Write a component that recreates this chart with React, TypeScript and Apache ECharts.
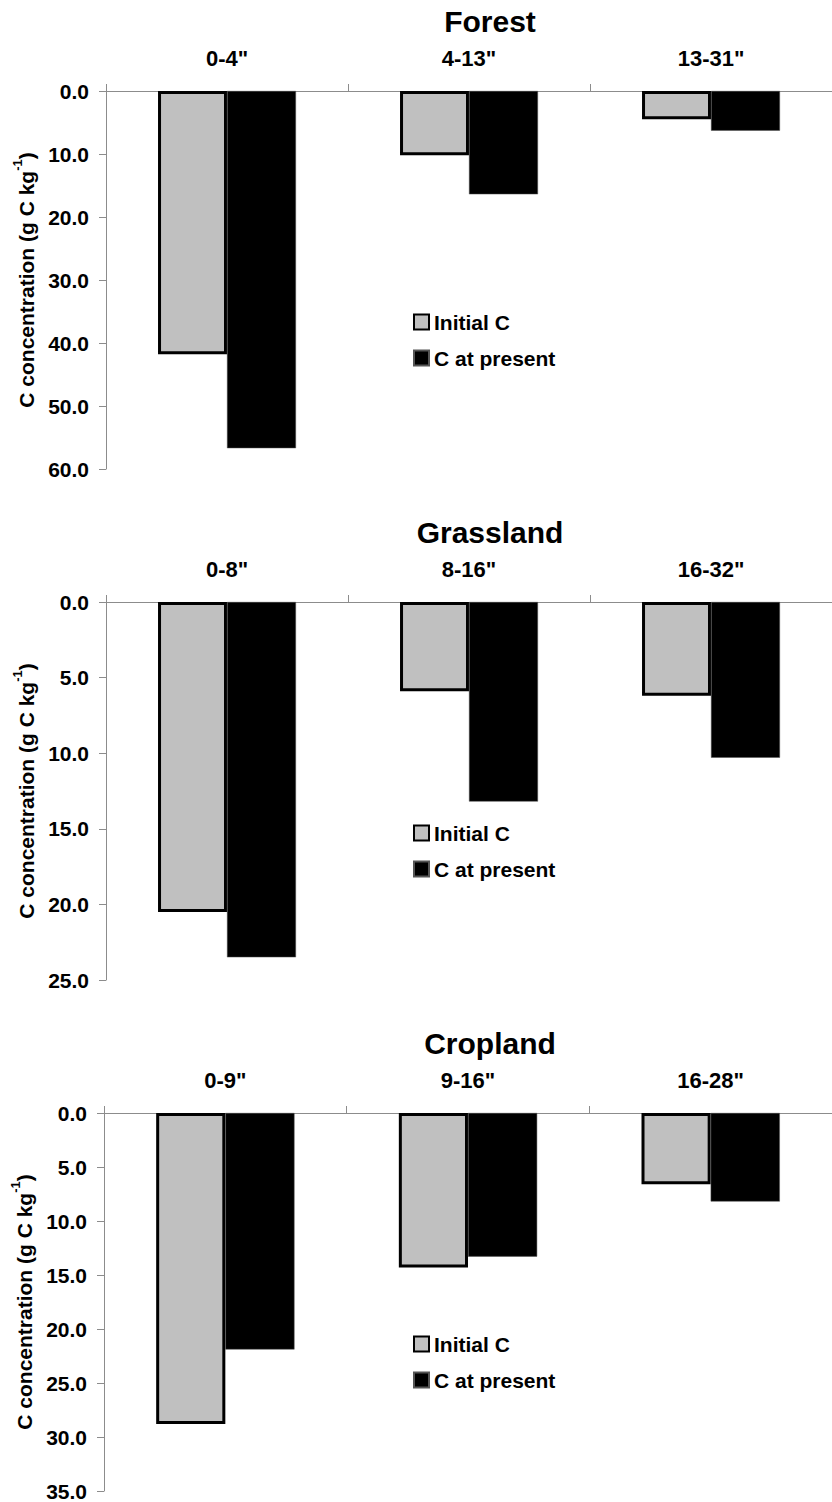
import React, { useEffect, useRef } from "react";
import * as echarts from "echarts";

const panelTitles = ["Forest", "Grassland", "Cropland"];
const forestDepths = ['0-4"', '4-13"', '13-31"'];
const grassDepths = ['0-8"', '8-16"', '16-32"'];
const cropDepths = ['0-9"', '9-16"', '16-28"'];
const forestInitial = [41.8, 10.2, 4.5];
const forestPresent = [56.7, 16.4, 6.3];
const grassInitial = [20.5, 5.9, 6.2];
const grassPresent = [23.5, 13.2, 10.3];
const cropInitial = [28.8, 14.3, 6.6];
const cropPresent = [21.9, 13.3, 8.2];
const axisMax = [60, 25, 35];
const axisInterval = [10, 5, 5];
const seriesNames = ["Initial C", "C at present"];

const FONT = "'Liberation Sans', Arial, sans-serif";
const AXIS_GRAY = "#8c8c8c";

export default function App() {
  const ref = useRef<HTMLDivElement>(null);
  useEffect(() => {
    document.body.style.margin = "0";
    if (!ref.current) return;
    const chart = echarts.init(ref.current, undefined, { renderer: "svg" });
    const cats = [forestDepths, grassDepths, cropDepths];
    const initial = [forestInitial, grassInitial, cropInitial];
    const present = [forestPresent, grassPresent, cropPresent];
    const tops = [91, 602, 1113];
    const lefts = [106, 106, 104];
    const widths = [732, 732, 736];
    const height = 378;

    const grid: any[] = [];
    const xAxis: any[] = [];
    const yAxis: any[] = [];
    const series: any[] = [];
    const title: any[] = [];
    const legend: any[] = [];

    for (let i = 0; i < 3; i++) {
      grid.push({ left: lefts[i], top: tops[i], width: widths[i], height, containLabel: false });
      title.push({
        text: panelTitles[i],
        left: 490,
        top: tops[i] - 85,
        textAlign: "center",
        padding: 0,
        textStyle: { fontFamily: FONT, fontWeight: "bold", fontSize: 30, color: "#000" },
      });
      xAxis.push({
        gridIndex: i,
        type: "category",
        position: "top",
        data: cats[i],
        axisLine: { show: true, lineStyle: { color: AXIS_GRAY, width: 1 } },
        axisTick: { show: true, alignWithLabel: false, length: 7, lineStyle: { color: AXIS_GRAY } },
        axisLabel: { margin: 22, fontFamily: FONT, fontWeight: "bold", fontSize: 22, color: "#000" },
        splitLine: { show: false },
      });
      yAxis.push({
        gridIndex: i,
        type: "value",
        inverse: true,
        min: 0,
        max: axisMax[i],
        interval: axisInterval[i],
        name: "{a|C concentration (g C kg}{s|-1}{a|)}",
        nameLocation: "middle",
        nameRotate: 90,
        nameGap: 66,
        nameTextStyle: {
          rich: {
            a: { fontFamily: FONT, fontWeight: "bold", fontSize: 21, color: "#000", verticalAlign: "bottom", lineHeight: 26 },
            s: { fontFamily: FONT, fontWeight: "bold", fontSize: 13, color: "#000", verticalAlign: "top", lineHeight: 14 },
          },
        },
        axisLine: { show: true, lineStyle: { color: AXIS_GRAY, width: 1 } },
        axisTick: { show: true, length: 7, lineStyle: { color: AXIS_GRAY } },
        axisLabel: {
          margin: 17,
          fontFamily: FONT,
          fontWeight: "bold",
          fontSize: 21,
          color: "#000",
          formatter: (v: number) => v.toFixed(1),
        },
        splitLine: { show: false },
      });
      series.push({
        name: seriesNames[0],
        type: "bar",
        xAxisIndex: i,
        yAxisIndex: i,
        data: initial[i],
        barGap: "0%",
        barCategoryGap: "43%",
        itemStyle: { color: "#c0c0c0", borderColor: "#000", borderWidth: 3 },
      });
      series.push({
        name: seriesNames[1],
        type: "bar",
        xAxisIndex: i,
        yAxisIndex: i,
        data: present[i],
        barGap: "0%",
        barCategoryGap: "43%",
        itemStyle: { color: "#000", borderColor: "#555", borderWidth: 0.5 },
      });
      legend.push({
        data: seriesNames,
        orient: "vertical",
        left: 413,
        top: tops[i] + 219,
        padding: 0,
        itemGap: 12,
        itemWidth: 15,
        itemHeight: 15,
        icon: "rect",
        selectedMode: false,
        textStyle: { fontFamily: FONT, fontWeight: "bold", fontSize: 21, color: "#000", lineHeight: 24 },
      });
    }

    chart.setOption({
      animation: false,
      backgroundColor: "#fff",
      title,
      legend,
      grid,
      xAxis,
      yAxis,
      series,
    });
    return () => chart.dispose();
  }, []);
  return <div ref={ref} style={{ width: 832, height: 1502 }} />;
}
